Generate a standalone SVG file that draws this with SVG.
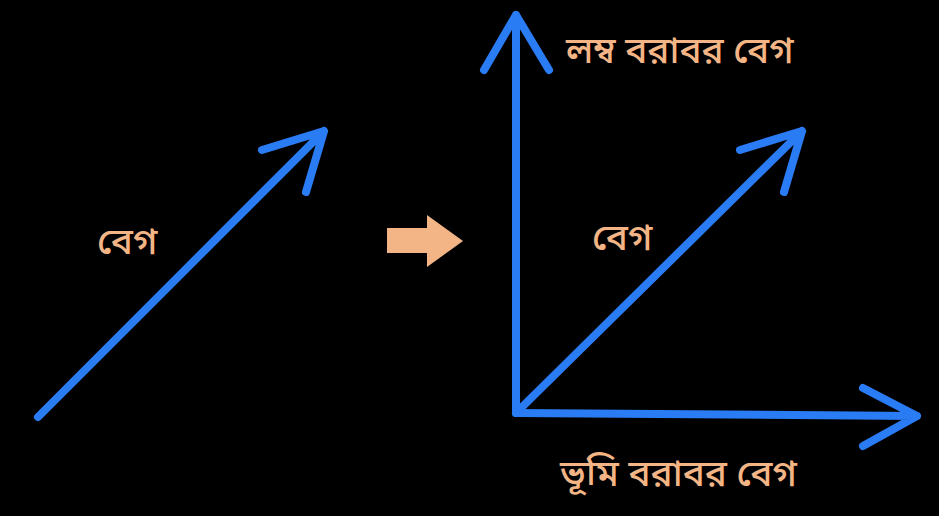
<svg xmlns="http://www.w3.org/2000/svg" width="939" height="516" viewBox="0 0 939 516">
<style>
.v{fill:none;stroke:#2a7cf5;stroke-width:8;stroke-linecap:round;stroke-linejoin:round}
.t{fill:#f3b585;font-family:"Noto Sans Bengali","Noto Sans","Lohit Bengali","FreeSans",sans-serif;font-size:37px;font-weight:500}
</style>
<rect width="939" height="516" fill="#000"/>
<g id="connectors">
<path class="v" d="M38,417 L324,131 M262,150 L324,131 L306,192"/>
<path class="v" d="M516,413 L516,15 M484,70 L516,15 L549,70"/>
<path class="v" d="M516,413 L917,416 M863,388 L917,416 L863,446"/>
<path class="v" d="M516,413 L802,131 M740,150 L802,131 L784,192"/>
</g>
<g id="transform-arrow">
<path d="M387,228 H427 V215 L463,241 L427,267 V253 H387 Z" fill="#f3b585"/>
</g>
<g id="label-left"><text class="t" x="97" y="254">বেগ</text></g>
<g id="label-middle"><text class="t" x="592" y="250">বেগ</text></g>
<g id="label-vertical"><text class="t" x="566" y="63">লম্ব বরাবর বেগ</text></g>
<g id="label-horizontal"><text class="t" x="560" y="486">ভূমি বরাবর বেগ</text></g>
</svg>
